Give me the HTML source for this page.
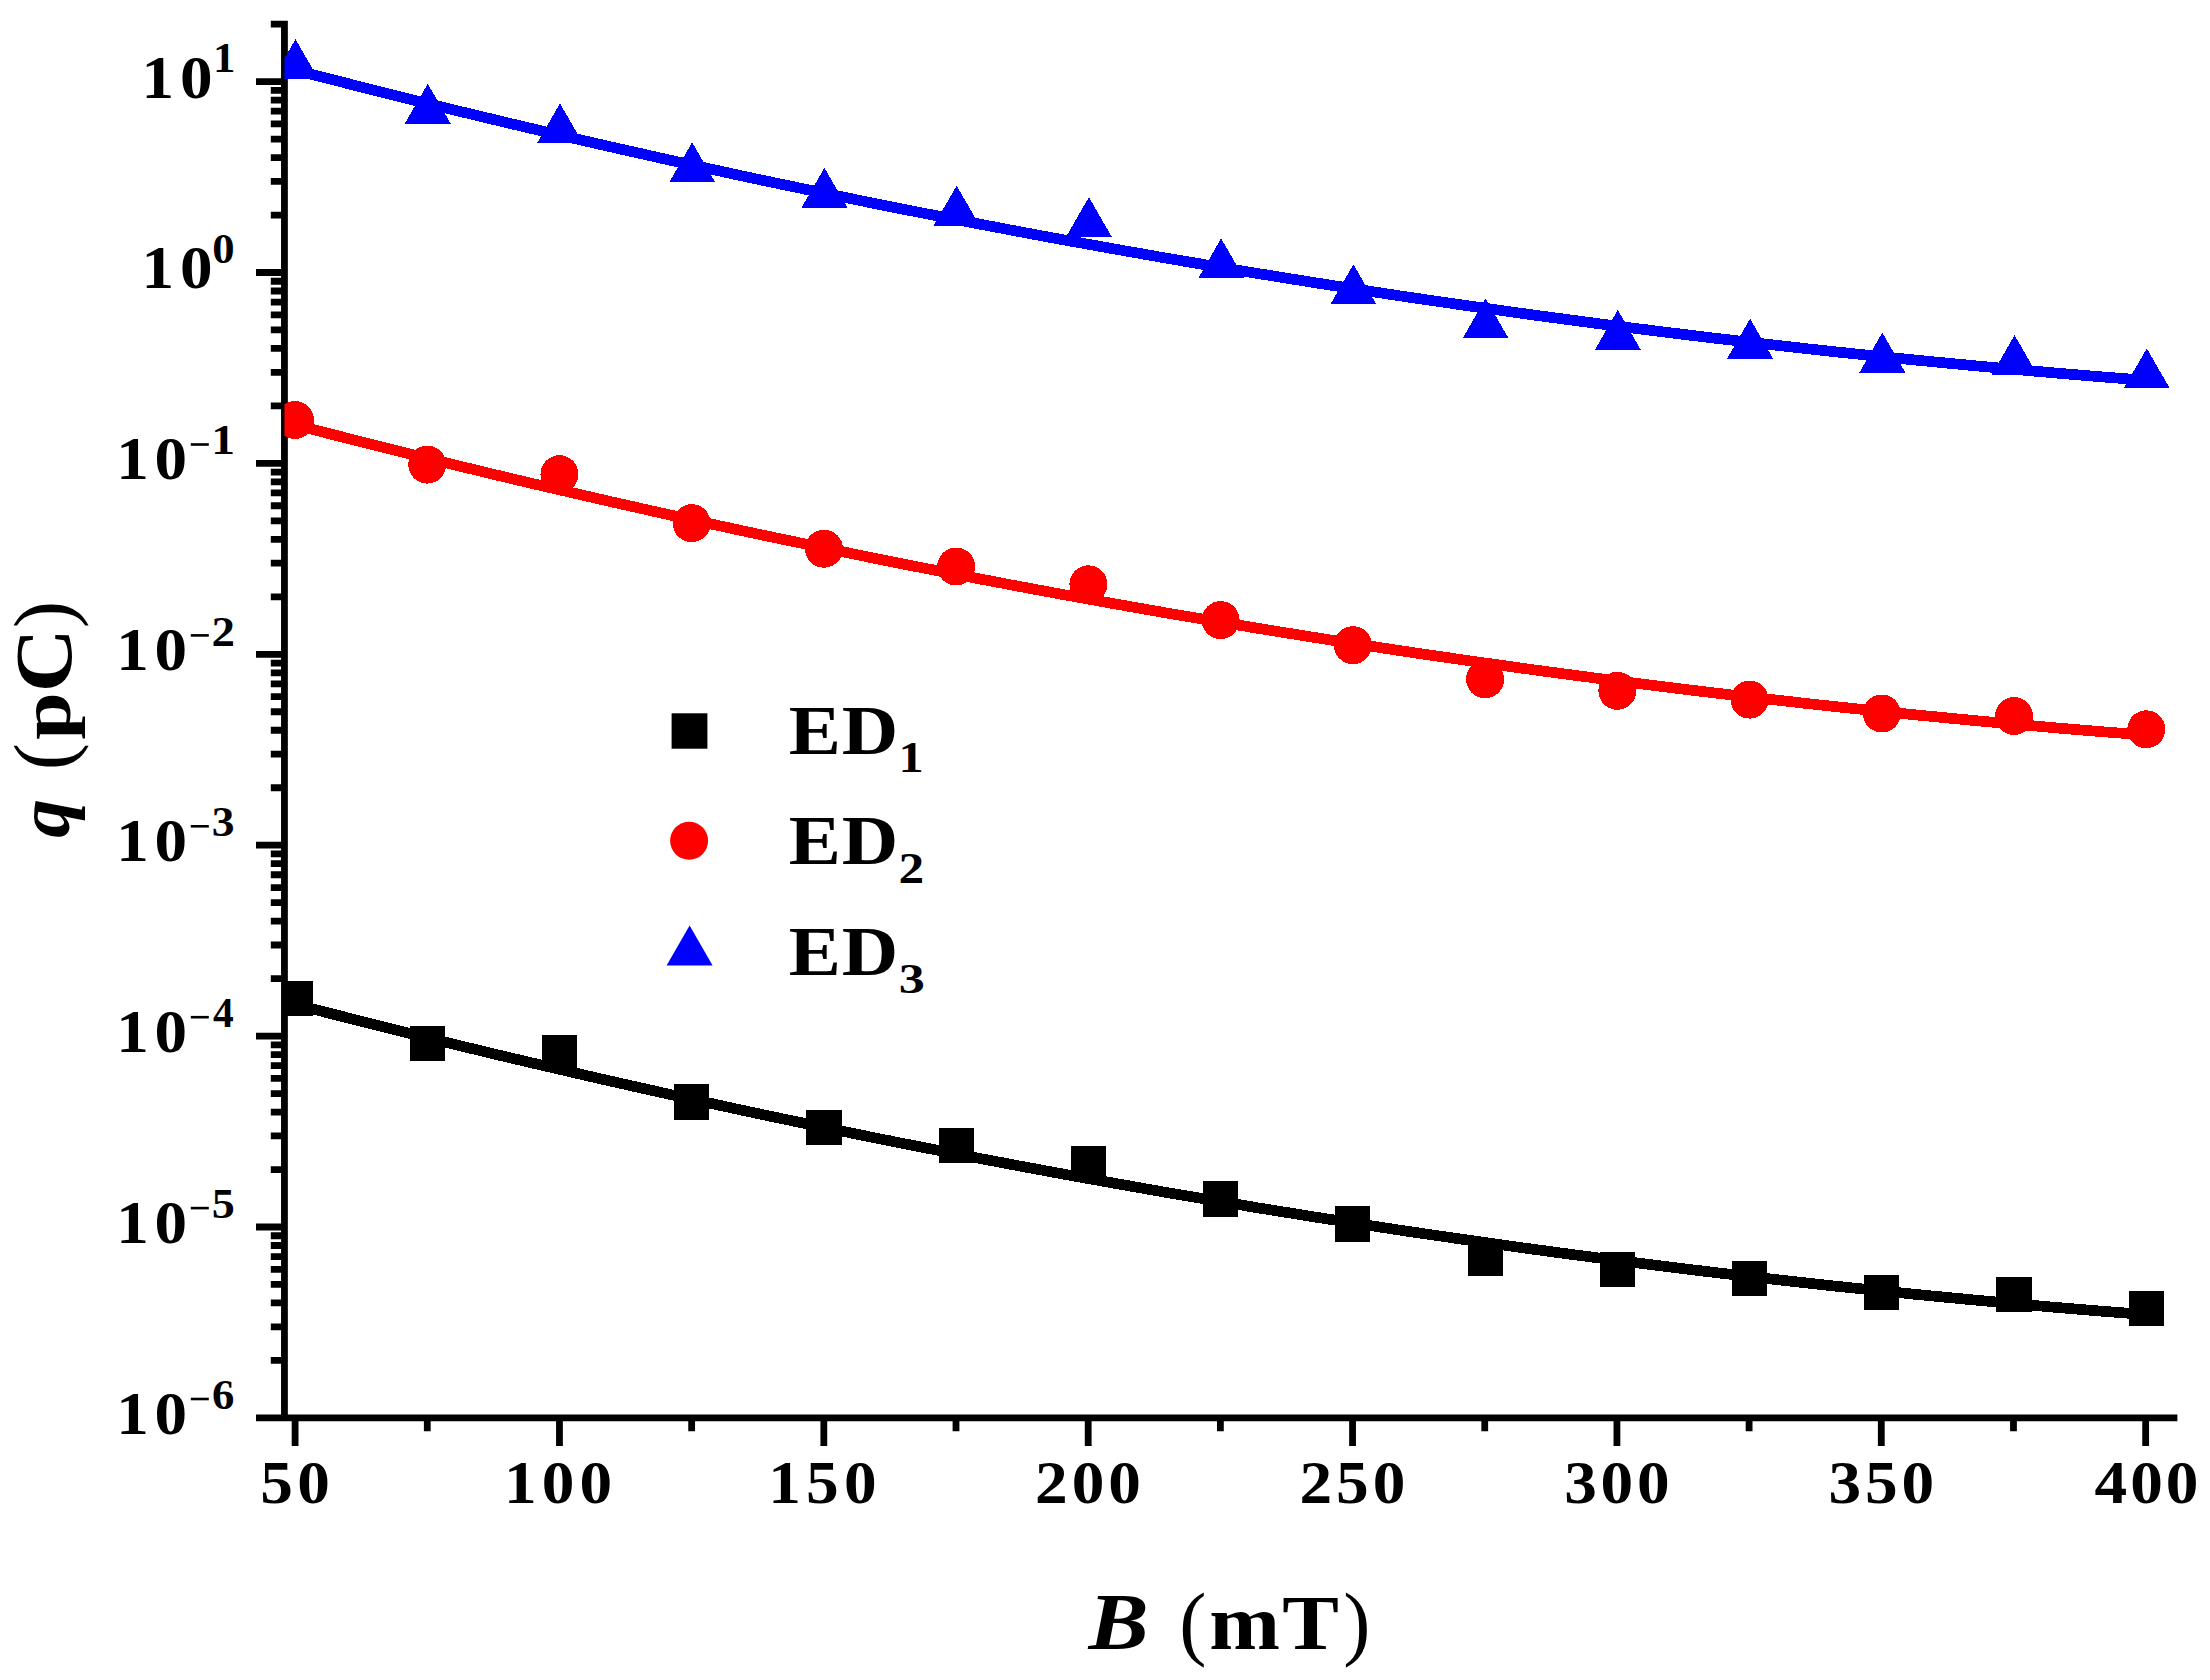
<!DOCTYPE html><html><head><meta charset="utf-8"><title>q vs B</title><style>html,body{margin:0;padding:0;background:#fff}svg{display:block}text{font-family:"Liberation Serif",serif}</style></head><body><svg width="2210" height="1680" viewBox="0 0 2210 1680">
<rect width="2210" height="1680" fill="#fff"/>
<path d="M284.45 20.73V1417.90M256.00 1417.90H2177.38M256.00 81.60H284.45M270.80 24.13H284.45M256.00 272.50H284.45M270.80 215.03H284.45M270.80 181.42H284.45M270.80 157.57H284.45M270.80 139.07H284.45M270.80 123.95H284.45M270.80 111.17H284.45M270.80 100.10H284.45M270.80 90.34H284.45M256.00 463.40H284.45M270.80 405.93H284.45M270.80 372.32H284.45M270.80 348.47H284.45M270.80 329.97H284.45M270.80 314.85H284.45M270.80 302.07H284.45M270.80 291.00H284.45M270.80 281.24H284.45M256.00 654.30H284.45M270.80 596.83H284.45M270.80 563.22H284.45M270.80 539.37H284.45M270.80 520.87H284.45M270.80 505.75H284.45M270.80 492.97H284.45M270.80 481.90H284.45M270.80 472.14H284.45M256.00 845.20H284.45M270.80 787.73H284.45M270.80 754.12H284.45M270.80 730.27H284.45M270.80 711.77H284.45M270.80 696.65H284.45M270.80 683.87H284.45M270.80 672.80H284.45M270.80 663.04H284.45M256.00 1036.10H284.45M270.80 978.63H284.45M270.80 945.02H284.45M270.80 921.17H284.45M270.80 902.67H284.45M270.80 887.55H284.45M270.80 874.77H284.45M270.80 863.70H284.45M270.80 853.94H284.45M256.00 1227.00H284.45M270.80 1169.53H284.45M270.80 1135.92H284.45M270.80 1112.07H284.45M270.80 1093.57H284.45M270.80 1078.45H284.45M270.80 1065.67H284.45M270.80 1054.60H284.45M270.80 1044.84H284.45M270.80 1360.43H284.45M270.80 1326.82H284.45M270.80 1302.97H284.45M270.80 1284.47H284.45M270.80 1269.35H284.45M270.80 1256.57H284.45M270.80 1245.50H284.45M270.80 1235.74H284.45M295.10 1417.90V1445.90M427.28 1417.90V1431.20M559.47 1417.90V1445.90M691.65 1417.90V1431.20M823.83 1417.90V1445.90M956.01 1417.90V1431.20M1088.20 1417.90V1445.90M1220.38 1417.90V1431.20M1352.56 1417.90V1445.90M1484.74 1417.90V1431.20M1616.93 1417.90V1445.90M1749.11 1417.90V1431.20M1881.29 1417.90V1445.90M2013.47 1417.90V1431.20M2145.66 1417.90V1445.90" stroke="#000" stroke-width="6.8" fill="none"/>
<defs><clipPath id="cp"><rect x="284.45" y="24.13" width="1892.93" height="1393.77"/></clipPath></defs>
<g clip-path="url(#cp)" shape-rendering="crispEdges">
<path d="M295.0 1004.4L310.6 1008.4L326.1 1012.4L341.7 1016.3L357.2 1020.3L372.8 1024.2L388.3 1028.1L403.9 1032.0L419.5 1035.8L435.0 1039.6L450.6 1043.4L466.1 1047.2L481.7 1050.9L497.2 1054.7L512.8 1058.4L528.4 1062.1L543.9 1065.7L559.5 1069.3L575.0 1072.9L590.6 1076.5L606.1 1080.1L621.7 1083.6L637.3 1087.1L652.8 1090.6L668.4 1094.1L683.9 1097.5L699.5 1100.9L715.0 1104.3L730.6 1107.7L746.2 1111.1L761.7 1114.4L777.3 1117.7L792.8 1120.9L808.4 1124.2L823.9 1127.4L839.5 1130.6L855.1 1133.8L870.6 1137.0L886.2 1140.1L901.7 1143.2L917.3 1146.3L932.8 1149.3L948.4 1152.4L964.0 1155.4L979.5 1158.4L995.1 1161.3L1010.6 1164.3L1026.2 1167.2L1041.7 1170.1L1057.3 1173.0L1072.9 1175.8L1088.4 1178.6L1104.0 1181.4L1119.5 1184.2L1135.1 1186.9L1150.6 1189.7L1166.2 1192.4L1181.8 1195.1L1197.3 1197.7L1212.9 1200.3L1228.4 1202.9L1244.0 1205.5L1259.5 1208.1L1275.1 1210.6L1290.7 1213.1L1306.2 1215.6L1321.8 1218.1L1337.3 1220.5L1352.9 1222.9L1368.4 1225.3L1384.0 1227.7L1399.6 1230.1L1415.1 1232.4L1430.7 1234.7L1446.2 1236.9L1461.8 1239.2L1477.3 1241.4L1492.9 1243.6L1508.5 1245.8L1524.0 1248.0L1539.6 1250.1L1555.1 1252.2L1570.7 1254.3L1586.2 1256.3L1601.8 1258.4L1617.3 1260.4L1632.9 1262.4L1648.5 1264.3L1664.0 1266.3L1679.6 1268.2L1695.1 1270.1L1710.7 1272.0L1726.2 1273.8L1741.8 1275.6L1757.4 1277.4L1772.9 1279.2L1788.5 1280.9L1804.0 1282.7L1819.6 1284.4L1835.1 1286.1L1850.7 1287.7L1866.3 1289.3L1881.8 1291.0L1897.4 1292.5L1912.9 1294.1L1928.5 1295.6L1944.0 1297.1L1959.6 1298.6L1975.2 1300.1L1990.7 1301.5L2006.3 1303.0L2021.8 1304.3L2037.4 1305.7L2052.9 1307.1L2068.5 1308.4L2084.1 1309.7L2099.6 1311.0L2115.2 1312.2L2130.7 1313.4L2146.3 1314.6" stroke="#000" stroke-width="10.7" fill="none"/>
<rect x="277.40" y="981.20" width="35.2" height="35.2" fill="#000"/>
<rect x="409.63" y="1025.80" width="35.2" height="35.2" fill="#000"/>
<rect x="541.87" y="1035.40" width="35.2" height="35.2" fill="#000"/>
<rect x="674.10" y="1084.40" width="35.2" height="35.2" fill="#000"/>
<rect x="806.34" y="1109.90" width="35.2" height="35.2" fill="#000"/>
<rect x="938.57" y="1127.70" width="35.2" height="35.2" fill="#000"/>
<rect x="1070.81" y="1145.50" width="35.2" height="35.2" fill="#000"/>
<rect x="1203.05" y="1181.30" width="35.2" height="35.2" fill="#000"/>
<rect x="1335.28" y="1206.40" width="35.2" height="35.2" fill="#000"/>
<rect x="1467.52" y="1240.50" width="35.2" height="35.2" fill="#000"/>
<rect x="1599.75" y="1252.00" width="35.2" height="35.2" fill="#000"/>
<rect x="1731.98" y="1260.80" width="35.2" height="35.2" fill="#000"/>
<rect x="1864.22" y="1274.70" width="35.2" height="35.2" fill="#000"/>
<rect x="1996.45" y="1277.20" width="35.2" height="35.2" fill="#000"/>
<rect x="2128.69" y="1290.50" width="35.2" height="35.2" fill="#000"/>
<path d="M295.0 424.9L310.6 428.9L326.1 432.9L341.7 436.8L357.2 440.8L372.8 444.7L388.3 448.6L403.9 452.5L419.5 456.3L435.0 460.1L450.6 463.9L466.1 467.7L481.7 471.4L497.2 475.2L512.8 478.9L528.4 482.6L543.9 486.2L559.5 489.8L575.0 493.4L590.6 497.0L606.1 500.6L621.7 504.1L637.3 507.6L652.8 511.1L668.4 514.6L683.9 518.0L699.5 521.4L715.0 524.8L730.6 528.2L746.2 531.6L761.7 534.9L777.3 538.2L792.8 541.4L808.4 544.7L823.9 547.9L839.5 551.1L855.1 554.3L870.6 557.5L886.2 560.6L901.7 563.7L917.3 566.8L932.8 569.8L948.4 572.9L964.0 575.9L979.5 578.9L995.1 581.8L1010.6 584.8L1026.2 587.7L1041.7 590.6L1057.3 593.5L1072.9 596.3L1088.4 599.1L1104.0 601.9L1119.5 604.7L1135.1 607.4L1150.6 610.2L1166.2 612.9L1181.8 615.6L1197.3 618.2L1212.9 620.8L1228.4 623.4L1244.0 626.0L1259.5 628.6L1275.1 631.1L1290.7 633.6L1306.2 636.1L1321.8 638.6L1337.3 641.0L1352.9 643.4L1368.4 645.8L1384.0 648.2L1399.6 650.6L1415.1 652.9L1430.7 655.2L1446.2 657.4L1461.8 659.7L1477.3 661.9L1492.9 664.1L1508.5 666.3L1524.0 668.5L1539.6 670.6L1555.1 672.7L1570.7 674.8L1586.2 676.8L1601.8 678.9L1617.3 680.9L1632.9 682.9L1648.5 684.8L1664.0 686.8L1679.6 688.7L1695.1 690.6L1710.7 692.5L1726.2 694.3L1741.8 696.1L1757.4 697.9L1772.9 699.7L1788.5 701.4L1804.0 703.2L1819.6 704.9L1835.1 706.6L1850.7 708.2L1866.3 709.8L1881.8 711.5L1897.4 713.0L1912.9 714.6L1928.5 716.1L1944.0 717.6L1959.6 719.1L1975.2 720.6L1990.7 722.0L2006.3 723.5L2021.8 724.8L2037.4 726.2L2052.9 727.6L2068.5 728.9L2084.1 730.2L2099.6 731.5L2115.2 732.7L2130.7 733.9L2146.3 735.1" stroke="#f00" stroke-width="10.7" fill="none"/>
<circle cx="295.00" cy="420.00" r="19.0" fill="#f00"/>
<circle cx="427.24" cy="464.60" r="19.0" fill="#f00"/>
<circle cx="559.47" cy="474.20" r="19.0" fill="#f00"/>
<circle cx="691.70" cy="523.20" r="19.0" fill="#f00"/>
<circle cx="823.94" cy="548.70" r="19.0" fill="#f00"/>
<circle cx="956.17" cy="566.50" r="19.0" fill="#f00"/>
<circle cx="1088.41" cy="584.30" r="19.0" fill="#f00"/>
<circle cx="1220.64" cy="620.10" r="19.0" fill="#f00"/>
<circle cx="1352.88" cy="645.20" r="19.0" fill="#f00"/>
<circle cx="1485.12" cy="679.30" r="19.0" fill="#f00"/>
<circle cx="1617.35" cy="690.80" r="19.0" fill="#f00"/>
<circle cx="1749.58" cy="699.60" r="19.0" fill="#f00"/>
<circle cx="1881.82" cy="713.50" r="19.0" fill="#f00"/>
<circle cx="2014.05" cy="716.00" r="19.0" fill="#f00"/>
<circle cx="2146.29" cy="729.30" r="19.0" fill="#f00"/>
<path d="M295.0 70.1L310.6 74.1L326.1 78.1L341.7 82.0L357.2 86.0L372.8 89.9L388.3 93.8L403.9 97.7L419.5 101.5L435.0 105.3L450.6 109.1L466.1 112.9L481.7 116.6L497.2 120.4L512.8 124.1L528.4 127.8L543.9 131.4L559.5 135.0L575.0 138.6L590.6 142.2L606.1 145.8L621.7 149.3L637.3 152.8L652.8 156.3L668.4 159.8L683.9 163.2L699.5 166.6L715.0 170.0L730.6 173.4L746.2 176.8L761.7 180.1L777.3 183.4L792.8 186.6L808.4 189.9L823.9 193.1L839.5 196.3L855.1 199.5L870.6 202.7L886.2 205.8L901.7 208.9L917.3 212.0L932.8 215.0L948.4 218.1L964.0 221.1L979.5 224.1L995.1 227.0L1010.6 230.0L1026.2 232.9L1041.7 235.8L1057.3 238.7L1072.9 241.5L1088.4 244.3L1104.0 247.1L1119.5 249.9L1135.1 252.6L1150.6 255.4L1166.2 258.1L1181.8 260.8L1197.3 263.4L1212.9 266.0L1228.4 268.6L1244.0 271.2L1259.5 273.8L1275.1 276.3L1290.7 278.8L1306.2 281.3L1321.8 283.8L1337.3 286.2L1352.9 288.6L1368.4 291.0L1384.0 293.4L1399.6 295.8L1415.1 298.1L1430.7 300.4L1446.2 302.6L1461.8 304.9L1477.3 307.1L1492.9 309.3L1508.5 311.5L1524.0 313.7L1539.6 315.8L1555.1 317.9L1570.7 320.0L1586.2 322.0L1601.8 324.1L1617.3 326.1L1632.9 328.1L1648.5 330.0L1664.0 332.0L1679.6 333.9L1695.1 335.8L1710.7 337.7L1726.2 339.5L1741.8 341.3L1757.4 343.1L1772.9 344.9L1788.5 346.6L1804.0 348.4L1819.6 350.1L1835.1 351.8L1850.7 353.4L1866.3 355.0L1881.8 356.7L1897.4 358.2L1912.9 359.8L1928.5 361.3L1944.0 362.8L1959.6 364.3L1975.2 365.8L1990.7 367.2L2006.3 368.7L2021.8 370.0L2037.4 371.4L2052.9 372.8L2068.5 374.1L2084.1 375.4L2099.6 376.7L2115.2 377.9L2130.7 379.1L2146.3 380.3" stroke="#00f" stroke-width="10.7" fill="none"/>
<path d="M295.50 39.10L318.50 79.10H272.50Z" fill="#00f"/>
<path d="M427.74 83.70L450.74 123.70H404.74Z" fill="#00f"/>
<path d="M559.97 103.40L582.97 143.40H536.97Z" fill="#00f"/>
<path d="M692.20 142.30L715.20 182.30H669.20Z" fill="#00f"/>
<path d="M824.44 167.80L847.44 207.80H801.44Z" fill="#00f"/>
<path d="M956.67 185.60L979.67 225.60H933.67Z" fill="#00f"/>
<path d="M1088.91 197.10L1111.91 237.10H1065.91Z" fill="#00f"/>
<path d="M1221.14 238.40L1244.14 278.40H1198.14Z" fill="#00f"/>
<path d="M1353.38 264.30L1376.38 304.30H1330.38Z" fill="#00f"/>
<path d="M1485.62 298.40L1508.62 338.40H1462.62Z" fill="#00f"/>
<path d="M1617.85 309.90L1640.85 349.90H1594.85Z" fill="#00f"/>
<path d="M1750.08 318.70L1773.08 358.70H1727.08Z" fill="#00f"/>
<path d="M1882.32 332.60L1905.32 372.60H1859.32Z" fill="#00f"/>
<path d="M2014.55 335.10L2037.55 375.10H1991.55Z" fill="#00f"/>
<path d="M2146.79 348.40L2169.79 388.40H2123.79Z" fill="#00f"/>
</g>
<rect x="671.6" y="713.3" width="35.8" height="35.4" fill="#000"/>
<circle cx="689.1" cy="840.8" r="19" fill="#f00"/>
<path d="M689.6 925.6L712.6 965.6H666.6Z" fill="#00f"/>
<text transform="matrix(0.6528 0 0 0.6044 260.24 1502.50)" font-size="100" letter-spacing="6.56" style="font-weight:bold" fill="#000">50</text>
<text transform="matrix(0.6528 0 0 0.6044 503.94 1502.50)" font-size="100" letter-spacing="7.93" style="font-weight:bold" fill="#000">100</text>
<text transform="matrix(0.6528 0 0 0.6044 768.31 1502.50)" font-size="100" letter-spacing="7.93" style="font-weight:bold" fill="#000">150</text>
<text transform="matrix(0.6528 0 0 0.6044 1035.12 1502.50)" font-size="100" letter-spacing="6.05" style="font-weight:bold" fill="#000">200</text>
<text transform="matrix(0.6528 0 0 0.6044 1299.49 1502.50)" font-size="100" letter-spacing="6.05" style="font-weight:bold" fill="#000">250</text>
<text transform="matrix(0.6528 0 0 0.6044 1564.18 1502.50)" font-size="100" letter-spacing="5.80" style="font-weight:bold" fill="#000">300</text>
<text transform="matrix(0.6528 0 0 0.6044 1828.54 1502.50)" font-size="100" letter-spacing="5.80" style="font-weight:bold" fill="#000">350</text>
<text transform="matrix(0.6528 0 0 0.6044 2094.54 1502.50)" font-size="100" letter-spacing="4.55" style="font-weight:bold" fill="#000">400</text>
<text transform="matrix(0.6512 0 0 0.6030 141.59 97.50)" font-size="100" letter-spacing="9.11" style="font-weight:bold" fill="#000">10</text>
<text transform="matrix(0.4490 0 0 0.4121 212.91 72.30)" font-size="100" style="font-weight:bold" fill="#000">1</text>
<text transform="matrix(0.6512 0 0 0.6030 141.59 288.40)" font-size="100" letter-spacing="9.11" style="font-weight:bold" fill="#000">10</text>
<text transform="matrix(0.4471 0 0 0.4148 212.32 263.29)" font-size="100" style="font-weight:bold" fill="#000">0</text>
<text transform="matrix(0.6512 0 0 0.6030 116.19 479.30)" font-size="100" letter-spacing="8.96" style="font-weight:bold" fill="#000">10</text>
<rect x="190.8" y="443.20" width="18" height="2.6" fill="#000"/>
<text transform="matrix(0.4762 0 0 0.4121 211.19 454.10)" font-size="100" style="font-weight:bold" fill="#000">1</text>
<text transform="matrix(0.6512 0 0 0.6030 116.19 670.20)" font-size="100" letter-spacing="8.96" style="font-weight:bold" fill="#000">10</text>
<rect x="190.8" y="634.10" width="18" height="2.6" fill="#000"/>
<text transform="matrix(0.4699 0 0 0.4226 211.50 645.50)" font-size="100" style="font-weight:bold" fill="#000">2</text>
<text transform="matrix(0.6512 0 0 0.6030 116.19 861.10)" font-size="100" letter-spacing="8.96" style="font-weight:bold" fill="#000">10</text>
<rect x="190.8" y="825.00" width="18" height="2.6" fill="#000"/>
<text transform="matrix(0.4561 0 0 0.4164 211.79 835.98)" font-size="100" style="font-weight:bold" fill="#000">3</text>
<text transform="matrix(0.6512 0 0 0.6030 116.19 1052.00)" font-size="100" letter-spacing="8.96" style="font-weight:bold" fill="#000">10</text>
<rect x="190.8" y="1015.90" width="18" height="2.6" fill="#000"/>
<text transform="matrix(0.4149 0 0 0.4259 212.98 1027.30)" font-size="100" style="font-weight:bold" fill="#000">4</text>
<text transform="matrix(0.6512 0 0 0.6030 116.19 1242.90)" font-size="100" letter-spacing="8.96" style="font-weight:bold" fill="#000">10</text>
<rect x="190.8" y="1206.80" width="18" height="2.6" fill="#000"/>
<text transform="matrix(0.4615 0 0 0.4211 211.65 1217.78)" font-size="100" style="font-weight:bold" fill="#000">5</text>
<text transform="matrix(0.6512 0 0 0.6030 116.19 1433.80)" font-size="100" letter-spacing="8.96" style="font-weight:bold" fill="#000">10</text>
<rect x="190.8" y="1397.70" width="18" height="2.6" fill="#000"/>
<text transform="matrix(0.4483 0 0 0.4164 211.93 1408.68)" font-size="100" style="font-weight:bold" fill="#000">6</text>
<text transform="matrix(0.9016 0 0 0.7954 1088.60 1649.00)" font-size="100" style="font-weight:bold;font-style:italic" fill="#000">B</text>
<text transform="matrix(0.8157 0 0 0.8231 1179.33 1649.51)" font-size="100" style="" fill="#000">(</text>
<text transform="matrix(0.8492 0 0 0.7863 1209.16 1649.20)" font-size="100" letter-spacing="2.87" style="font-weight:bold" fill="#000">mT</text>
<text transform="matrix(0.8155 0 0 0.8231 1343.35 1649.51)" font-size="100" style="" fill="#000">)</text>
<text transform="translate(69.23 837.77) rotate(-90) scale(0.7741 0.7326)" font-size="100" style="font-weight:bold;font-style:italic">q</text>
<text transform="translate(70.84 769.94) rotate(-90) scale(0.8078 0.8264)" font-size="100" style="">(</text>
<text transform="translate(70.79 692.13) rotate(-90) scale(0.8857 0.8119)" font-size="100" style="font-weight:bold">C</text>
<text transform="translate(69.51 739.67) rotate(-90) scale(0.8537 0.7194)" font-size="100" style="font-weight:bold">p</text>
<text transform="translate(70.84 628.36) rotate(-90) scale(0.8194 0.8264)" font-size="100" style="">)</text>
<text transform="matrix(0.7820 0 0 0.6920 788.73 753.63)" font-size="100" letter-spacing="1.00" style="font-weight:bold" fill="#000">ED</text>
<text transform="matrix(0.5034 0 0 0.4333 898.47 771.90)" font-size="100" style="font-weight:bold" fill="#000">1</text>
<text transform="matrix(0.7820 0 0 0.6920 788.73 864.13)" font-size="100" letter-spacing="1.00" style="font-weight:bold" fill="#000">ED</text>
<text transform="matrix(0.5133 0 0 0.4377 898.42 882.80)" font-size="100" style="font-weight:bold" fill="#000">2</text>
<text transform="matrix(0.7820 0 0 0.6920 788.73 974.63)" font-size="100" letter-spacing="1.00" style="font-weight:bold" fill="#000">ED</text>
<text transform="matrix(0.5216 0 0 0.4312 898.64 992.87)" font-size="100" style="font-weight:bold" fill="#000">3</text>
</svg></body></html>
